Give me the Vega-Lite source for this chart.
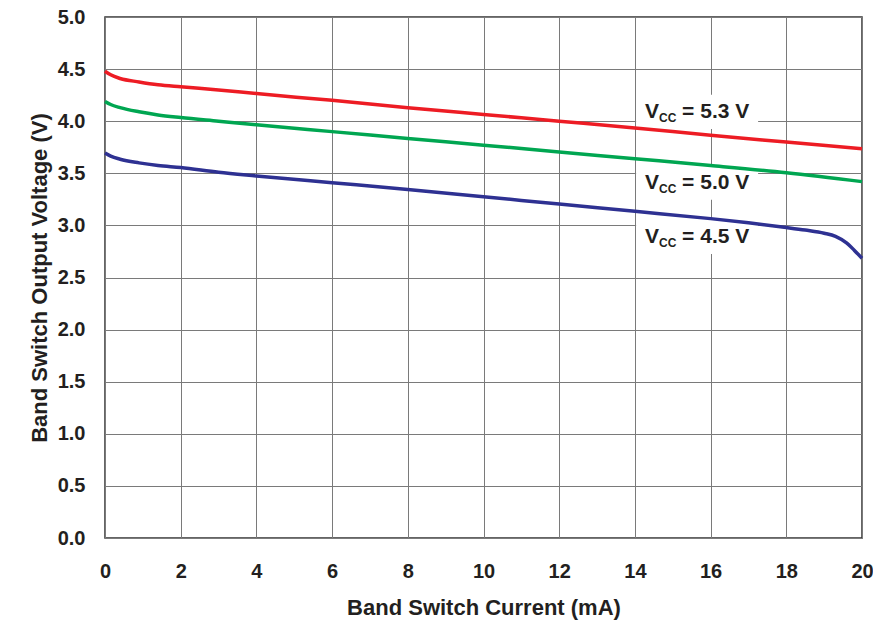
{
  "$schema": "https://vega.github.io/schema/vega-lite/v6.json",
  "width": 757,
  "height": 521,
  "autosize": {"type": "none"},
  "padding": {"left": 105, "top": 17, "right": 11, "bottom": 82},
  "background": "white",
  "config": {
    "view": {"stroke": "#333333", "strokeWidth": 1.5},
    "font": "Liberation Sans",
    "axis": {
      "labelFont": "Liberation Sans", "labelFontWeight": "bold", "labelFontSize": 20, "labelColor": "#231f20", "labelFlush": false,
      "titleFont": "Liberation Sans", "titleFontWeight": "bold", "titleFontSize": 22, "titleColor": "#231f20",
      "gridColor": "#7a7a7a", "gridWidth": 1, "gridOpacity": 1, "ticks": false, "domain": false
    }
  },
  "datasets": {
    "curves": [
      {"s": "5.3", "x": 0, "y": 4.48}, {"s": "5.3", "x": 0.15, "y": 4.445}, {"s": "5.3", "x": 0.4, "y": 4.41}, {"s": "5.3", "x": 0.9, "y": 4.377}, {"s": "5.3", "x": 1.4, "y": 4.35}, {"s": "5.3", "x": 2, "y": 4.33}, {"s": "5.3", "x": 3, "y": 4.3}, {"s": "5.3", "x": 4, "y": 4.265}, {"s": "5.3", "x": 6, "y": 4.2}, {"s": "5.3", "x": 8, "y": 4.13}, {"s": "5.3", "x": 10, "y": 4.065}, {"s": "5.3", "x": 12, "y": 4.0}, {"s": "5.3", "x": 14, "y": 3.935}, {"s": "5.3", "x": 16, "y": 3.865}, {"s": "5.3", "x": 18, "y": 3.8}, {"s": "5.3", "x": 20, "y": 3.735},
      {"s": "5.0", "x": 0, "y": 4.19}, {"s": "5.0", "x": 0.15, "y": 4.16}, {"s": "5.0", "x": 0.4, "y": 4.13}, {"s": "5.0", "x": 0.9, "y": 4.09}, {"s": "5.0", "x": 1.4, "y": 4.06}, {"s": "5.0", "x": 2, "y": 4.035}, {"s": "5.0", "x": 3, "y": 4.0}, {"s": "5.0", "x": 4, "y": 3.965}, {"s": "5.0", "x": 6, "y": 3.9}, {"s": "5.0", "x": 8, "y": 3.835}, {"s": "5.0", "x": 10, "y": 3.77}, {"s": "5.0", "x": 12, "y": 3.705}, {"s": "5.0", "x": 14, "y": 3.64}, {"s": "5.0", "x": 16, "y": 3.575}, {"s": "5.0", "x": 18, "y": 3.505}, {"s": "5.0", "x": 20, "y": 3.42},
      {"s": "4.5", "x": 0, "y": 3.695}, {"s": "4.5", "x": 0.15, "y": 3.665}, {"s": "4.5", "x": 0.4, "y": 3.635}, {"s": "4.5", "x": 0.9, "y": 3.6}, {"s": "4.5", "x": 1.4, "y": 3.575}, {"s": "4.5", "x": 2, "y": 3.555}, {"s": "4.5", "x": 3, "y": 3.51}, {"s": "4.5", "x": 4, "y": 3.475}, {"s": "4.5", "x": 6, "y": 3.41}, {"s": "4.5", "x": 8, "y": 3.345}, {"s": "4.5", "x": 10, "y": 3.275}, {"s": "4.5", "x": 12, "y": 3.205}, {"s": "4.5", "x": 14, "y": 3.135}, {"s": "4.5", "x": 16, "y": 3.065}, {"s": "4.5", "x": 17, "y": 3.025}, {"s": "4.5", "x": 18, "y": 2.98}, {"s": "4.5", "x": 18.5, "y": 2.955}, {"s": "4.5", "x": 19, "y": 2.925}, {"s": "4.5", "x": 19.3, "y": 2.895}, {"s": "4.5", "x": 19.6, "y": 2.83}, {"s": "4.5", "x": 19.8, "y": 2.76}, {"s": "4.5", "x": 20, "y": 2.685}
    ],
    "labels": [
      {"x": 14.27, "y": 4.09, "rest": "= 5.3 V"},
      {"x": 14.27, "y": 3.41, "rest": "= 5.0 V"},
      {"x": 14.27, "y": 2.89, "rest": "= 4.5 V"}
    ]
  },
  "layer": [
    {
      "data": {"name": "labels"},
      "mark": {"type": "point", "shape": "M-1,-0.28L1,-0.28L1,0.28L-1,0.28Z", "filled": true, "color": "white", "opacity": 1, "size": 14884, "xOffset": 52, "strokeWidth": 0},
      "encoding": {
        "x": {"field": "x", "type": "quantitative", "scale": {"domain": [0, 20]}, "axis": {"values": [0, 2, 4, 6, 8, 10, 12, 14, 16, 18, 20], "labelPadding": 23, "title": "Band Switch Current (mA)", "titlePadding": 16}},
        "y": {"field": "y", "type": "quantitative", "scale": {"domain": [0, 5]}, "axis": {"values": [0, 0.5, 1, 1.5, 2, 2.5, 3, 3.5, 4, 4.5, 5], "format": ".1f", "labelPadding": 20, "title": "Band Switch Output Voltage (V)", "titlePadding": 6}}
      }
    },
    {
      "data": {"name": "curves"},
      "mark": {"type": "line", "strokeWidth": 3.5, "interpolate": "monotone"},
      "encoding": {
        "x": {"field": "x", "type": "quantitative"},
        "y": {"field": "y", "type": "quantitative"},
        "color": {"field": "s", "type": "nominal", "scale": {"domain": ["5.3", "5.0", "4.5"], "range": ["#ed1c24", "#00a651", "#2e3192"]}, "legend": null}
      }
    },
    {
      "data": {"name": "labels"},
      "mark": {"type": "text", "text": "V", "align": "left", "baseline": "middle", "font": "Liberation Sans", "fontWeight": "bold", "fontSize": 21, "color": "#231f20"},
      "encoding": {"x": {"field": "x", "type": "quantitative"}, "y": {"field": "y", "type": "quantitative"}}
    },
    {
      "data": {"name": "labels"},
      "mark": {"type": "text", "text": "CC", "align": "left", "baseline": "middle", "dx": 14, "dy": 6, "font": "Liberation Sans", "fontWeight": "bold", "fontSize": 12, "color": "#231f20"},
      "encoding": {"x": {"field": "x", "type": "quantitative"}, "y": {"field": "y", "type": "quantitative"}}
    },
    {
      "data": {"name": "labels"},
      "mark": {"type": "text", "align": "left", "baseline": "middle", "dx": 37, "font": "Liberation Sans", "fontWeight": "bold", "fontSize": 21, "color": "#231f20"},
      "encoding": {"x": {"field": "x", "type": "quantitative"}, "y": {"field": "y", "type": "quantitative"}, "text": {"field": "rest"}}
    }
  ]
}
